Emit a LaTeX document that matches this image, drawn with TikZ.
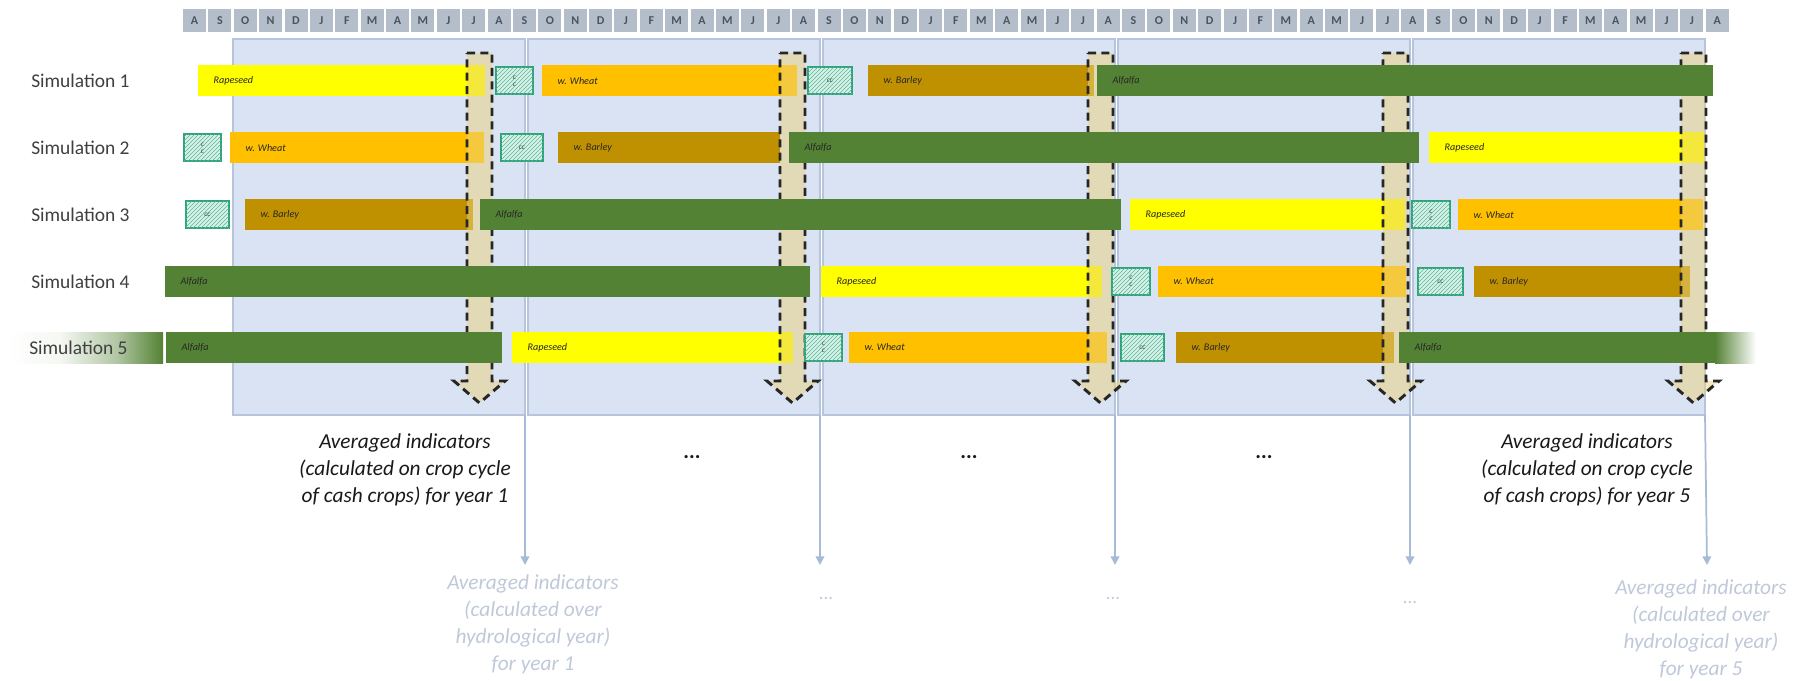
\documentclass[tikz,border=0pt]{standalone}
\usepackage{fontspec}
\setmainfont{Carlito}
\usetikzlibrary{patterns,arrows.meta}
\definecolor{hdr}{HTML}{B4BDCA}
\definecolor{hdrtxt}{HTML}{4A5360}
\definecolor{panelfill}{HTML}{DAE3F3}
\definecolor{paneldraw}{HTML}{B6C4DC}
\definecolor{yel}{HTML}{FFFF00}
\definecolor{wht}{HTML}{FFC000}
\definecolor{brl}{HTML}{BF9000}
\definecolor{alf}{HTML}{548235}
\definecolor{ccfill}{HTML}{D8F1E8}
\definecolor{cchatch}{HTML}{5DB898}
\definecolor{ccdraw}{HTML}{2FA37A}
\definecolor{arrfill}{HTML}{EBD27A}
\definecolor{thinarr}{HTML}{A8BBD6}
\definecolor{graytxt}{HTML}{BFC9DA}
\definecolor{simtxt}{HTML}{404040}
\pgfdeclarehorizontalshading{simfade}{100bp}{color(0bp)=(white); color(25bp)=(white); color(42bp)=(white!94!alf); color(60bp)=(white!55!alf); color(75bp)=(alf); color(100bp)=(alf)}
\newcommand\cropbar[6]{%
  \node[cbar,fill=#5,minimum width={(#3-#2)*0.75pt},anchor=west] (#1) at (#2,#4) {};
  \node[blabel,anchor=west] (#1l) at ([xshift=11.5pt]#1.west) {#6};}
\newcommand\ccbox[5]{%
  \node[ccb,minimum width={(#3-#2)*0.75pt},anchor=west] (#1) at (#2,#4) {#5};}
\newcommand\dasharrow[1]{%
  \draw[darr] (#1,53) -- ++(25,0) -- ++(0,328) -- ++(13,0) -- ++(-25.5,22) -- ++(-25.5,-22) -- ++(13,0) -- cycle;}
\begin{document}
\begin{tikzpicture}[x=0.75pt,y=-0.75pt,
  mcell/.style={fill=hdr,minimum width=17.25pt,minimum height=17.25pt,inner sep=0,outer sep=0,
    font=\fontsize{9}{10}\selectfont\bfseries,text=hdrtxt},
  panel/.style={fill=panelfill,draw=paneldraw,line width=1pt,minimum width=219pt,minimum height=282pt,
    inner sep=0,outer sep=0,anchor=north west},
  cbar/.style={minimum height=23.25pt,inner sep=0,outer sep=0,draw=none},
  blabel/.style={inner sep=0,font=\fontsize{7.6}{9}\selectfont\itshape,text=black!85},
  ccb/.style={minimum height=20.25pt,inner sep=0,outer sep=0,draw=ccdraw,line width=1.5pt,fill=ccfill,
    postaction={pattern=north east lines,pattern color=cchatch},align=center,
    font=\fontsize{5.5}{5}\selectfont\itshape,text=black!75},
  darr/.style={fill=arrfill,fill opacity=0.5,draw=black!85,line width=2.2pt,dash pattern=on 6pt off 4pt},
  thinarrow/.style={draw=thinarr,line width=1.3pt,-{Triangle[width=6.5pt,length=6.5pt]}},
  simlabel/.style={inner sep=0,font=\fontsize{14.6}{16}\selectfont,text=simtxt,anchor=west},
  bigtxt/.style={inner sep=0,align=center,font=\fontsize{16}{20.25}\selectfont\itshape,text=black!90},
  graytext/.style={inner sep=0,align=center,font=\fontsize{16}{20.25}\selectfont\itshape,text=graytxt},
  dots/.style={inner sep=0,font=\fontsize{16}{16}\selectfont\bfseries,text=black!90},
  graydots/.style={inner sep=0,font=\fontsize{14}{14}\selectfont,text=graytxt}]
\useasboundingbox (0,0) rectangle (1803,681);
\fill[white] (0,0) rectangle (1803,681);
% month header
\foreach \m [count=\i from 0] in {A,S,O,N,D,J,F,M,A,M,J,J,A,S,O,N,D,J,F,M,A,M,J,J,A,S,O,N,D,J,F,M,A,M,J,J,A,S,O,N,D,J,F,M,A,M,J,J,A,S,O,N,D,J,F,M,A,M,J,J,A}
  {\node[mcell] (m\i) at ({194.5+\i*25.38},20.5) {\m};}
% year panels
\node[panel] (p1) at (233,39) {};
\node[panel] (p2) at (528,39) {};
\node[panel] (p3) at (823,39) {};
\node[panel] (p4) at (1118,39) {};
\node[panel] (p5) at (1413,39) {};
% simulation labels
\shade[shading=simfade] (7,332) rectangle (163,363);
\node[simlabel] (s1) at (31,81) {Simulation 1};
\node[simlabel] (s2) at (31,148) {Simulation 2};
\node[simlabel] (s3) at (31,215) {Simulation 3};
\node[simlabel] (s4) at (31,281.5) {Simulation 4};
\node[simlabel] (s5) at (29,347.5) {Simulation 5};
% cash crop bars (non-alfalfa)
\cropbar{r1a}{198}{485}{81}{yel}{Rapeseed}
\cropbar{r1b}{542}{797}{81}{wht}{w. Wheat}
\cropbar{r1c}{868}{1094}{81}{brl}{w. Barley}
\cropbar{r2a}{230}{484}{148}{wht}{w. Wheat}
\cropbar{r2b}{558}{780}{148}{brl}{w. Barley}
\cropbar{r2d}{1429}{1704}{148}{yel}{Rapeseed}
\cropbar{r3a}{245}{473}{215}{brl}{w. Barley}
\cropbar{r3c}{1130}{1405}{215}{yel}{Rapeseed}
\cropbar{r3d}{1458}{1703}{215}{wht}{w. Wheat}
\cropbar{r4b}{821}{1102}{281.5}{yel}{Rapeseed}
\cropbar{r4c}{1158}{1406}{281.5}{wht}{w. Wheat}
\cropbar{r4d}{1474}{1690}{281.5}{brl}{w. Barley}
\cropbar{r5b}{512}{793}{347.5}{yel}{Rapeseed}
\cropbar{r5c}{849}{1107}{347.5}{wht}{w. Wheat}
\cropbar{r5d}{1176}{1394}{347.5}{brl}{w. Barley}
% dashed harvest arrows
\dasharrow{467}
\dasharrow{780}
\dasharrow{1088}
\dasharrow{1383}
\dasharrow{1681}
% alfalfa bars
\cropbar{r1d}{1097}{1713}{81}{alf}{Alfalfa}
\cropbar{r2c}{789}{1419}{148}{alf}{Alfalfa}
\cropbar{r3b}{480}{1121}{215}{alf}{Alfalfa}
\cropbar{r4a}{165}{810}{281.5}{alf}{Alfalfa}
\cropbar{r5a}{166}{502}{347.5}{alf}{Alfalfa}
\cropbar{r5e}{1399}{1716}{347.5}{alf}{Alfalfa}
\shade[left color=alf,right color=white] (1715,332) rectangle (1756,363);
% cover crops
\ccbox{c1a}{496}{533}{81}{c\\c}
\ccbox{c1b}{808}{852}{81}{cc}
\ccbox{c2a}{184}{221}{148}{c\\c}
\ccbox{c2b}{501}{543}{148}{cc}
\ccbox{c3a}{186}{229}{215}{cc}
\ccbox{c3b}{1412}{1450}{215}{c\\c}
\ccbox{c4a}{1112}{1150}{281.5}{c\\c}
\ccbox{c4b}{1418}{1463}{281.5}{cc}
\ccbox{c5a}{805}{842}{347.5}{c\\c}
\ccbox{c5b}{1121}{1164}{347.5}{cc}
% crop-cycle indicators
\node[bigtxt] (avg1) at (405,470) {Averaged indicators\\(calculated on crop cycle\\of cash crops) for year 1};
\node[bigtxt] (avg5) at (1587,470) {Averaged indicators\\(calculated on crop cycle\\of cash crops) for year 5};
\node[dots] (d2) at (692,457) {...};
\node[dots] (d3) at (969,457) {...};
\node[dots] (d4) at (1264,457) {...};
% hydrological-year indicators
\coordinate (e1) at (525,565);
\coordinate (e2) at (820,565);
\coordinate (e3) at (1115,565);
\coordinate (e4) at (1410,565);
\coordinate (e5) at (1707,565);
\draw[thinarrow] (p1.south east) -- (e1);
\draw[thinarrow] (p2.south east) -- (e2);
\draw[thinarrow] (p3.south east) -- (e3);
\draw[thinarrow] (p4.south east) -- (e4);
\draw[thinarrow] (p5.south east) -- (e5);
\node[graytext] (h1) at (533,624) {Averaged indicators\\(calculated over\\hydrological year)\\for year 1};
\node[graytext] (h5) at (1701,629) {Averaged indicators\\(calculated over\\hydrological year)\\for year 5};
\node[graydots] (g2) at (826,599) {...};
\node[graydots] (g3) at (1113,599) {...};
\node[graydots] (g4) at (1410,603) {...};
\end{tikzpicture}
\end{document}
